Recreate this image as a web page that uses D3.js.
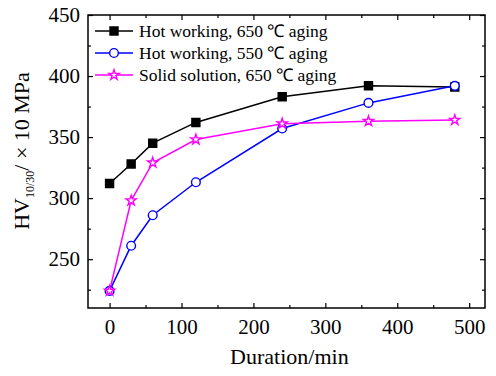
<!DOCTYPE html>
<html>
<head>
<meta charset="utf-8">
<script src="https://cdn.jsdelivr.net/npm/d3@7"></script>
<style>
  body { margin: 0; background: #fff; }
  svg, svg text { font-family: "Liberation Serif", "Times New Roman", serif; }
</style>
</head>
<body>
<div class="canvas"></div>
<script>
const durations = [0, 30, 60, 120, 240, 360, 480];
const hotWorking650 = [312, 328, 345, 362, 383, 392, 391];
const hotWorking550 = [224, 261, 286, 313, 357, 378, 392];
const solidSolution650 = [224, 298, 329, 348, 361, 363, 364];
const seriesNames = ['Hot working, 650 ℃ aging', 'Hot working, 550 ℃ aging', 'Solid solution, 650 ℃ aging'];
const xTicks = [0, 100, 200, 300, 400, 500];
const xMinorTicks = [50, 150, 250, 350, 450];
const yTicks = [250, 300, 350, 400, 450];
const yMinorTicks = [225, 275, 325, 375, 425];

const width = 496, height = 376;
const margin = { left: 88, right: 11, top: 15, bottom: 68 };
const serif = '"Liberation Serif", "Times New Roman", serif';

const series = [
  { name: seriesNames[0], values: hotWorking650, color: '#000000', symbol: d3.symbolSquare, size: 64, fill: '#000000' },
  { name: seriesNames[1], values: hotWorking550, color: '#0000ff', symbol: d3.symbolCircle, size: 60, fill: '#ffffff' },
  { name: seriesNames[2], values: solidSolution650, color: '#ff00ff', symbol: d3.symbolStar, size: 32, fill: '#ffffff' },
];

const svg = d3.select('.canvas')
  .append('svg')
  .attr('width', width)
  .attr('height', height);

const x = d3.scaleLinear().domain([-30, 522]).range([margin.left, width - margin.right]);
const y = d3.scaleLinear().domain([210, 450]).range([height - margin.bottom, margin.top]);

const plotW = width - margin.left - margin.right;
const plotH = height - margin.top - margin.bottom;

// frame
svg.append('rect')
  .attr('x', margin.left)
  .attr('y', margin.top)
  .attr('width', plotW)
  .attr('height', plotH)
  .attr('fill', 'none')
  .attr('stroke', '#000')
  .attr('stroke-width', 1.5);

const styleAxis = g => {
  g.attr('font-family', serif);
  g.select('.domain').remove();
  g.selectAll('line').attr('stroke', '#000').attr('stroke-width', 1.2);
  g.selectAll('text').attr('font-size', 21).attr('fill', '#000').style('font-family', serif);
};

// bottom
svg.append('g')
  .attr('transform', `translate(0,${height - margin.bottom})`)
  .call(d3.axisBottom(x).tickValues(xTicks).tickSizeInner(-5).tickPadding(11))
  .call(styleAxis);
svg.append('g')
  .attr('transform', `translate(0,${height - margin.bottom})`)
  .call(d3.axisBottom(x).tickValues(xMinorTicks).tickSizeInner(-3).tickFormat(''))
  .call(styleAxis);
// top
svg.append('g')
  .attr('transform', `translate(0,${margin.top})`)
  .call(d3.axisTop(x).tickValues(xTicks).tickSizeInner(-5).tickFormat(''))
  .call(styleAxis);
svg.append('g')
  .attr('transform', `translate(0,${margin.top})`)
  .call(d3.axisTop(x).tickValues(xMinorTicks).tickSizeInner(-3).tickFormat(''))
  .call(styleAxis);
// left
svg.append('g')
  .attr('transform', `translate(${margin.left},0)`)
  .call(d3.axisLeft(y).tickValues(yTicks).tickSizeInner(-5).tickPadding(8))
  .call(styleAxis);
svg.append('g')
  .attr('transform', `translate(${margin.left},0)`)
  .call(d3.axisLeft(y).tickValues(yMinorTicks).tickSizeInner(-3).tickFormat(''))
  .call(styleAxis);
// right
svg.append('g')
  .attr('transform', `translate(${width - margin.right},0)`)
  .call(d3.axisRight(y).tickValues(yTicks).tickSizeInner(-5).tickFormat(''))
  .call(styleAxis);
svg.append('g')
  .attr('transform', `translate(${width - margin.right},0)`)
  .call(d3.axisRight(y).tickValues(yMinorTicks).tickSizeInner(-3).tickFormat(''))
  .call(styleAxis);

// axis titles
svg.append('text')
  .attr('x', x(250))
  .attr('y', 364)
  .attr('text-anchor', 'middle')
  .attr('font-size', 22)
  .text('Duration/min');

const yTitle = svg.append('text')
  .attr('transform', `translate(29,151) rotate(-90)`)
  .attr('text-anchor', 'middle')
  .attr('font-size', 22);
yTitle.append('tspan').text('HV');
yTitle.append('tspan').attr('font-size', 12).attr('dy', 5).text('10/30');
yTitle.append('tspan').attr('dy', -5).text('/ × 10 MPa');

// lines and markers
const line = d3.line()
  .x((d, i) => x(durations[i]))
  .y(d => y(d));

series.forEach(s => {
  svg.append('path')
    .datum(s.values)
    .attr('d', line)
    .attr('fill', 'none')
    .attr('stroke', s.color)
    .attr('stroke-width', 1.5);
});

series.forEach(s => {
  svg.append('g')
    .selectAll('path')
    .data(s.values)
    .join('path')
    .attr('transform', (d, i) => `translate(${x(durations[i])},${y(d)})`)
    .attr('d', d3.symbol().type(s.symbol).size(s.size))
    .attr('fill', s.fill)
    .attr('stroke', s.color)
    .attr('stroke-width', 1.4);
});

// legend
const legend = svg.append('g').attr('transform', 'translate(95,31)');
series.forEach((s, i) => {
  const row = legend.append('g').attr('transform', `translate(0,${i * 22})`);
  row.append('line')
    .attr('x1', 0).attr('x2', 38)
    .attr('stroke', s.color)
    .attr('stroke-width', 1.5);
  row.append('path')
    .attr('transform', 'translate(19,0)')
    .attr('d', d3.symbol().type(s.symbol).size(s.size))
    .attr('fill', s.fill)
    .attr('stroke', s.color)
    .attr('stroke-width', 1.4);
  row.append('text')
    .attr('x', 44)
    .attr('dy', '0.35em')
    .attr('font-size', 17.5)
    .text(s.name);
});
</script>
</body>
</html>
